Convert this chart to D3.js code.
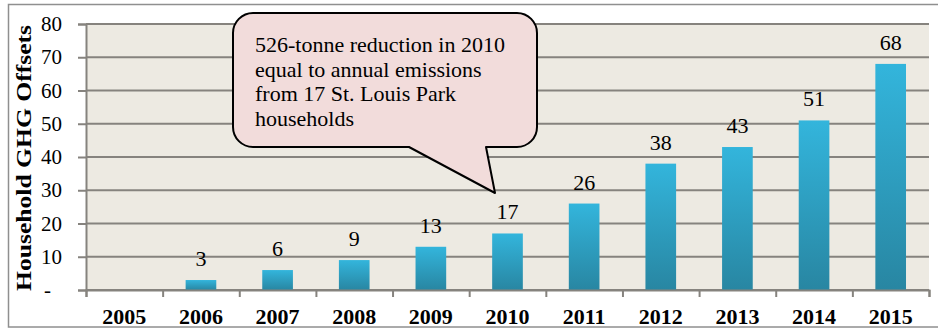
<!DOCTYPE html>
<html>
<head>
<meta charset="utf-8">
<script src="https://cdn.jsdelivr.net/npm/d3@7"></script>
<style>
  html, body { margin: 0; padding: 0; background: #fff; }
  svg { display: block; }
</style>
</head>
<body>
<svg id="chart" width="938" height="330"></svg>
<script>
// Household greenhouse-gas offsets by year
const years = ["2005", "2006", "2007", "2008", "2009", "2010", "2011", "2012", "2013", "2014", "2015"];
const offsets = [0, 3, 6, 9, 13, 17, 26, 38, 43, 51, 68];
const yTicks = [0, 10, 20, 30, 40, 50, 60, 70, 80];
const yTitle = "Household GHG Offsets";
const noteLines = [
  "526-tonne reduction in 2010",
  "equal to annual emissions",
  "from 17 St. Louis Park",
  "households"
];

const SERIF = "'Liberation Serif', 'Times New Roman', Times, serif";
const GRID = "#86837e";

const svg = d3.select("#chart")
  .style("font-family", SERIF);
const W = 938;
const plot = { left: 86, right: 929, top: 24, bottom: 290 };

// outer frame
svg.append("rect")
  .attr("x", 8.5).attr("y", 4.5)
  .attr("width", W).attr("height", 322.5)
  .attr("fill", "#fff").attr("stroke", "#8f8f8f").attr("stroke-width", 1.5);

const x = d3.scaleBand()
  .domain(years)
  .range([plot.left, plot.right])
  .paddingInner(0.6)
  .paddingOuter(0.3);

const y = d3.scaleLinear()
  .domain([0, 80])
  .range([plot.bottom, plot.top]);

// plot area background
svg.append("rect")
  .attr("x", plot.left).attr("y", plot.top)
  .attr("width", plot.right - plot.left)
  .attr("height", plot.bottom - plot.top)
  .attr("fill", "#EDEAE2");

// horizontal gridlines
svg.append("g")
  .selectAll("line")
  .data(yTicks)
  .join("line")
  .attr("x1", plot.left).attr("x2", plot.right)
  .attr("y1", d => y(d)).attr("y2", d => y(d))
  .attr("stroke", GRID)
  .attr("stroke-width", 2);

// bar gradient
const defs = svg.append("defs");
const grad = defs.append("linearGradient")
  .attr("id", "barFill")
  .attr("x1", 0).attr("y1", 0).attr("x2", 0).attr("y2", 1);
grad.append("stop").attr("offset", "0%").attr("stop-color", "#33B5DC");
grad.append("stop").attr("offset", "100%").attr("stop-color", "#2886A2");

const rows = years.map((yr, i) => ({ yr, v: offsets[i] })).filter(d => d.v > 0);

// bars
svg.append("g")
  .selectAll("rect")
  .data(rows)
  .join("rect")
  .attr("x", d => x(d.yr))
  .attr("y", d => y(d.v))
  .attr("width", x.bandwidth())
  .attr("height", d => y(0) - y(d.v))
  .attr("fill", "url(#barFill)");

// value labels
svg.append("g")
  .selectAll("text")
  .data(rows)
  .join("text")
  .attr("x", d => x(d.yr) + x.bandwidth() / 2)
  .attr("y", d => y(d.v) - 14)
  .attr("text-anchor", "middle")
  .style("font-family", SERIF)
  .style("font-size", "22px")
  .attr("fill", "#000")
  .text(d => d.v);

// y axis
const yAxis = svg.append("g")
  .attr("transform", `translate(${plot.left},0)`)
  .call(d3.axisLeft(y)
    .tickValues(yTicks)
    .tickSize(8)
    .tickPadding(16)
    .tickFormat(d => d === 0 ? "-" : d));
yAxis.attr("font-family", null).attr("font-size", null);
yAxis.select(".domain").attr("stroke", GRID).attr("stroke-width", 2);
yAxis.selectAll(".tick line").attr("stroke", GRID).attr("stroke-width", 2);
yAxis.selectAll(".tick text")
  .style("font-family", SERIF)
  .style("font-size", "21px")
  .attr("fill", "#000");
yAxis.selectAll(".tick").filter(d => d === 0).select("text").attr("x", -35);

// x axis: tick marks at category boundaries
const edge = d3.scaleLinear().domain([0, years.length]).range([plot.left, plot.right]);
const xTicks = svg.append("g")
  .attr("transform", `translate(0,${plot.bottom})`)
  .call(d3.axisBottom(edge)
    .tickValues(d3.range(years.length + 1))
    .tickSize(7)
    .tickFormat(""));
xTicks.select(".domain").attr("stroke", GRID).attr("stroke-width", 2);
xTicks.selectAll(".tick line").attr("stroke", GRID).attr("stroke-width", 2);

// x axis: category labels
const xLabels = svg.append("g")
  .attr("transform", `translate(0,${plot.bottom})`)
  .call(d3.axisBottom(x).tickSize(0).tickPadding(18));
xLabels.attr("font-family", null).attr("font-size", null);
xLabels.select(".domain").remove();
xLabels.selectAll(".tick text")
  .style("font-family", SERIF)
  .style("font-size", "22px")
  .style("font-weight", "bold")
  .attr("fill", "#000");

// y axis title
svg.append("text")
  .attr("transform", `translate(31,${(plot.top + plot.bottom) / 2 + 1}) rotate(-90)`)
  .attr("text-anchor", "middle")
  .style("font-family", SERIF)
  .style("font-size", "22px")
  .style("font-weight", "bold")
  .attr("textLength", 266)
  .attr("lengthAdjust", "spacingAndGlyphs")
  .attr("fill", "#000")
  .text(yTitle);

// speech-bubble callout pointing at the 2010 bar
const bx0 = 233, bx1 = 537, by0 = 13, by1 = 147, r = 20;
const tipX = 495, tipY = 193;
const tailL = 409, tailR = 486;
const bubble = d3.path();
bubble.moveTo(bx0 + r, by0);
bubble.lineTo(bx1 - r, by0);
bubble.arcTo(bx1, by0, bx1, by0 + r, r);
bubble.lineTo(bx1, by1 - r);
bubble.arcTo(bx1, by1, bx1 - r, by1, r);
bubble.lineTo(tailR, by1);
bubble.lineTo(tipX, tipY);
bubble.lineTo(tailL, by1);
bubble.lineTo(bx0 + r, by1);
bubble.arcTo(bx0, by1, bx0, by1 - r, r);
bubble.lineTo(bx0, by0 + r);
bubble.arcTo(bx0, by0, bx0 + r, by0, r);
bubble.closePath();
svg.append("path")
  .attr("d", bubble.toString())
  .attr("fill", "#F2DCDB")
  .attr("stroke", "#000")
  .attr("stroke-width", 2)
  .attr("stroke-linejoin", "round");

svg.append("g")
  .selectAll("text")
  .data(noteLines)
  .join("text")
  .attr("x", 255)
  .attr("y", (d, i) => 52 + i * 24.5)
  .style("font-family", SERIF)
  .style("font-size", "22px")
  .attr("fill", "#000")
  .text(d => d);
</script>
</body>
</html>
